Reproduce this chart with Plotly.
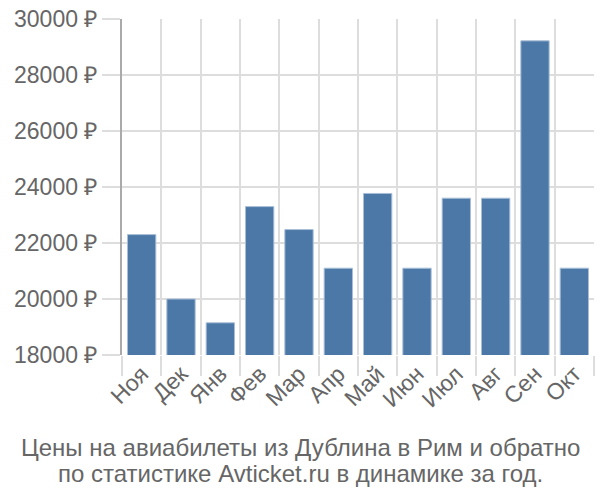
import plotly.graph_objects as go

months = ["Ноя", "Дек", "Янв", "Фев", "Мар", "Апр", "Май", "Июн", "Июл", "Авг", "Сен", "Окт"]
prices = [22300, 20000, 19150, 23300, 22480, 21100, 23770, 21100, 23600, 23600, 29220, 21100]
y_ticks = [18000, 20000, 22000, 24000, 26000, 28000, 30000]
y_tick_labels = [f"{v} ₽" for v in y_ticks]
title_lines = ["Цены на авиабилеты из Дублина в Рим и обратно",
               "по статистике Avticket.ru в динамике за год."]

fig = go.Figure()
fig.add_trace(go.Bar(
    x=months, y=prices,
    marker=dict(color="#4c78a8", line=dict(color="#a9bfd6", width=1)),
    base=0,
))

fig.update_layout(
    width=600, height=500,
    margin=dict(l=122, r=6, t=15, b=145),
    paper_bgcolor="white", plot_bgcolor="white",
    bargap=0.28,
    showlegend=False,
    font=dict(family="Liberation Sans, Arial, sans-serif", color="#666666", size=23),
)
fig.update_xaxes(
    type="category",
    tickangle=-45,
    tickson="boundaries",
    ticks="outside", ticklen=20, tickcolor="#dddddd", tickwidth=2,
    showgrid=True, gridcolor="#dddddd", gridwidth=2,
    showline=False,
    tickfont=dict(size=23, color="#666666"),
)
fig.update_yaxes(
    range=[18000, 30000],
    tickvals=y_ticks, ticktext=y_tick_labels,
    ticks="outside", ticklen=18, tickcolor="#dddddd", tickwidth=2,
    showgrid=True, gridcolor="#dddddd", gridwidth=2,
    showline=True, linecolor="#aaaaaa", linewidth=2,
    zeroline=False,
    tickfont=dict(size=23, color="#666666"),
)
for i, line in enumerate(title_lines):
    fig.add_annotation(
        text=line,
        xref="paper", yref="paper", x=(300 - 122) / 472, y=0,
        xanchor="center", yanchor="middle", yshift=-92 - 26 * i,
        showarrow=False,
        font=dict(family="Liberation Sans, sans-serif", size=24, color="#666666"),
    )
fig.write_html("out.html")
